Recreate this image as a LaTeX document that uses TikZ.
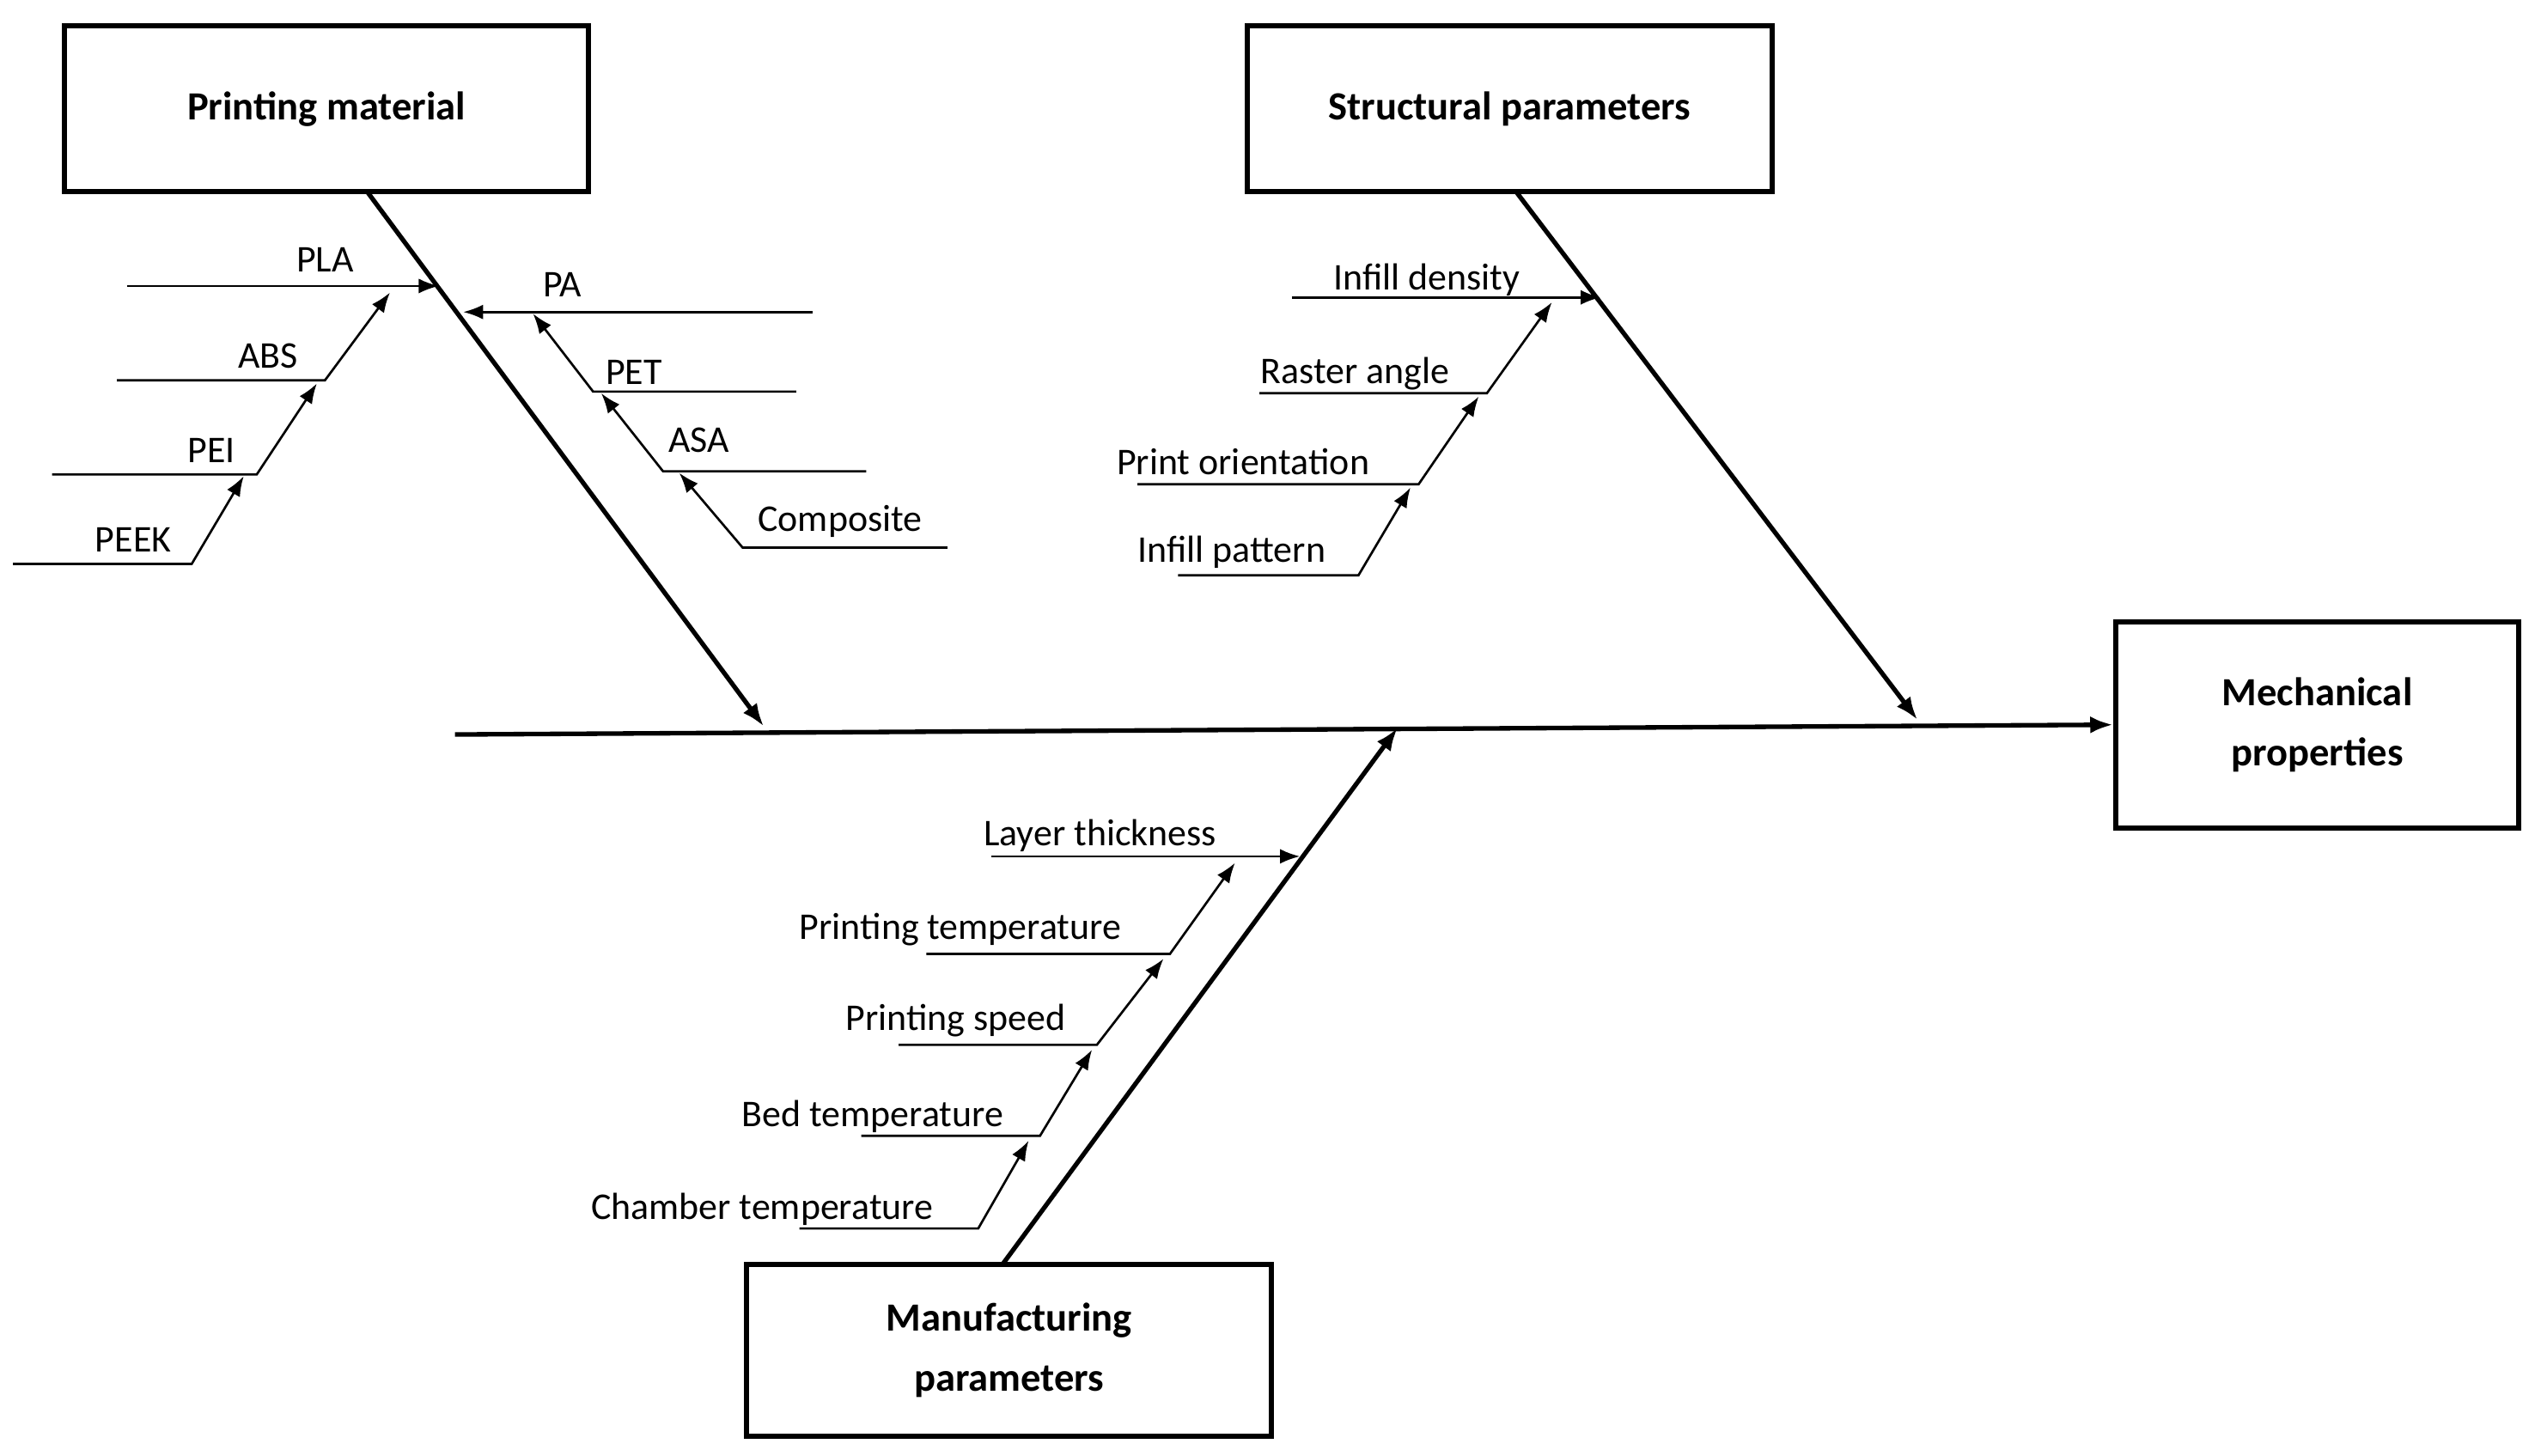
\documentclass[tikz,border=0pt]{standalone}
\usepackage{fontspec}
\setmainfont{Carlito}
\usetikzlibrary{arrows.meta}
\begin{document}
\begin{tikzpicture}[x=0.01cm, y=-0.01cm,
    cause/.style={rectangle, draw, line width=0.9pt, font=\fontsize{7}{8.5}\selectfont\bfseries, align=center, inner sep=0pt},
    lbl/.style={font=\fontsize{6.6}{8}\selectfont, inner sep=0pt},
    bone/.style={line width=0.8pt, -{Latex[length=4pt,width=3pt]}},
    twig/.style={line width=0.4pt, -{Latex[length=3.5pt,width=2.6pt]}}]
    \useasboundingbox (0,0) rectangle (1560,896);

    % Boxes
    \node (pm) [cause, minimum width=3.22cm, minimum height=1.02cm] at (201,67) {Printing material};
    \node (sp) [cause, minimum width=3.23cm, minimum height=1.02cm] at (929,67) {Structural parameters};
    \node (mech) [cause, minimum width=2.48cm, minimum height=1.27cm] at (1426,446) {Mechanical\\[2pt]properties};
    \node (mp) [cause, minimum width=3.23cm, minimum height=1.06cm] at (621,831) {Manufacturing\\[2pt]parameters};

    % Spine and main bones
    \coordinate (tail) at (280,452);
    \coordinate (pmtip) at (470,447);
    \coordinate (sptip) at (1180,443);
    \coordinate (mptip) at (860,448);
    \coordinate (pmtop) at (226,118);
    \coordinate (sptop) at (933,118);
    \coordinate (mpbot) at (617,778);
    \draw[bone] (tail) -- (mech.west);
    \draw[bone] (pmtop) -- (pmtip);
    \draw[bone] (sptop) -- (sptip);
    \draw[bone] (mpbot) -- (mptip);

    % Printing material, left twigs
    \node (pla) [lbl] at (200,160) {PLA};
    \node (abs) [lbl] at (165,219) {ABS};
    \node (pei) [lbl] at (130,277) {PEI};
    \node (peek) [lbl] at (82,332) {PEEK};
    \coordinate (pla0) at (78,176);  \coordinate (pla1) at (270,176);
    \coordinate (abs0) at (72,234);  \coordinate (abs1) at (200,234);  \coordinate (abs2) at (240,180);
    \coordinate (pei0) at (32,292);  \coordinate (pei1) at (158,292);  \coordinate (pei2) at (195,236);
    \coordinate (peek0) at (8,347);  \coordinate (peek1) at (118,347); \coordinate (peek2) at (150,293);
    \draw[twig] (pla0) -- (pla1);
    \draw[twig] (abs0) -- (abs1) -- (abs2);
    \draw[twig] (pei0) -- (pei1) -- (pei2);
    \draw[twig] (peek0) -- (peek1) -- (peek2);

    % Printing material, right twigs
    \node (pa) [lbl] at (346,175) {PA};
    \node (pet) [lbl] at (390,229) {PET};
    \node (asa) [lbl] at (430,271) {ASA};
    \node (comp) [lbl] at (517,321) {Composite};
    \coordinate (pa0) at (500,192);   \coordinate (pa1) at (285,192);
    \coordinate (pet0) at (490,241);  \coordinate (pet1) at (365,241);  \coordinate (pet2) at (328,193);
    \coordinate (asa0) at (533,290);  \coordinate (asa1) at (408,290);  \coordinate (asa2) at (370,242);
    \coordinate (comp0) at (583,337); \coordinate (comp1) at (457,337); \coordinate (comp2) at (418,291);
    \draw[twig] (pa0) -- (pa1);
    \draw[twig] (pet0) -- (pet1) -- (pet2);
    \draw[twig] (asa0) -- (asa1) -- (asa2);
    \draw[twig] (comp0) -- (comp1) -- (comp2);

    % Structural parameters
    \node (dens) [lbl] at (878,172) {Infill density};
    \node (rast) [lbl] at (834,230) {Raster angle};
    \node (orient) [lbl] at (765,284) {Print orientation};
    \node (patt) [lbl] at (758,340) {Infill pattern};
    \coordinate (dens0) at (795,183);   \coordinate (dens1) at (985,183);
    \coordinate (rast0) at (775,242);   \coordinate (rast1) at (915,242);   \coordinate (rast2) at (955,186);
    \coordinate (orient0) at (700,298); \coordinate (orient1) at (873,298); \coordinate (orient2) at (910,244);
    \coordinate (patt0) at (725,354);   \coordinate (patt1) at (836,354);   \coordinate (patt2) at (868,300);
    \draw[twig] (dens0) -- (dens1);
    \draw[twig] (rast0) -- (rast1) -- (rast2);
    \draw[twig] (orient0) -- (orient1) -- (orient2);
    \draw[twig] (patt0) -- (patt1) -- (patt2);

    % Manufacturing parameters
    \node (layer) [lbl] at (677,514) {Layer thickness};
    \node (ptemp) [lbl] at (591,572) {Printing temperature};
    \node (speed) [lbl] at (588,628) {Printing speed};
    \node (bed) [lbl] at (537,687) {Bed temperature};
    \node (chamb) [lbl] at (469,744) {Chamber temperature};
    \coordinate (layer0) at (610,527); \coordinate (layer1) at (800,527);
    \coordinate (ptemp0) at (570,587); \coordinate (ptemp1) at (720,587); \coordinate (ptemp2) at (760,531);
    \coordinate (speed0) at (553,643); \coordinate (speed1) at (675,643); \coordinate (speed2) at (716,590);
    \coordinate (bed0) at (530,699);   \coordinate (bed1) at (640,699);   \coordinate (bed2) at (672,646);
    \coordinate (chamb0) at (492,756); \coordinate (chamb1) at (602,756); \coordinate (chamb2) at (633,702);
    \draw[twig] (layer0) -- (layer1);
    \draw[twig] (ptemp0) -- (ptemp1) -- (ptemp2);
    \draw[twig] (speed0) -- (speed1) -- (speed2);
    \draw[twig] (bed0) -- (bed1) -- (bed2);
    \draw[twig] (chamb0) -- (chamb1) -- (chamb2);
\end{tikzpicture}
\end{document}
